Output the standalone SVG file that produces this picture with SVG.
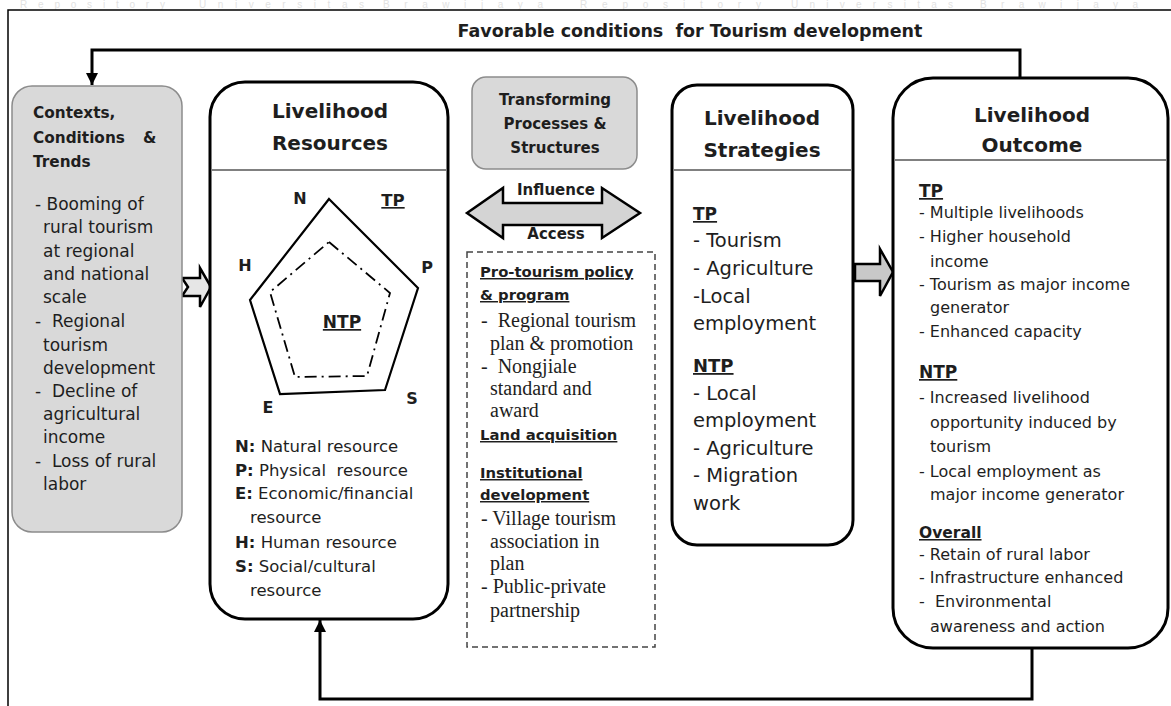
<svg xmlns="http://www.w3.org/2000/svg" width="1171" height="706" viewBox="0 0 1171 706">
  <style>
    .box { fill: #ffffff; stroke: #000000; stroke-width: 3; }
    .gbox { fill: #d9d9d9; stroke: #8c8c8c; stroke-width: 1.5; }
    .rule { stroke: #808080; stroke-width: 2; }
    .t { font-family: "DejaVu Sans", sans-serif; fill: #1e1e1e; }
    .s { font-family: "Liberation Serif", serif; fill: #1e1e1e; font-size: 20px; }
    .b { font-weight: bold; }
    .u { text-decoration: underline; }
    .c { text-anchor: middle; }
    .wire { fill: none; stroke: #000000; stroke-width: 3; }
    .block { stroke: #000000; stroke-width: 2.5; stroke-linejoin: miter; }
    .wm { font-family: "Liberation Sans", sans-serif; font-size: 10px; fill: #e2e2e2; }
  </style>
  <defs>
    <marker id="head" markerUnits="userSpaceOnUse" markerWidth="14" markerHeight="14" refX="12" refY="7" orient="auto">
      <path d="M0,1 L12,7 L0,13 Z" fill="#000000"/>
    </marker>
  </defs>

  <rect width="1171" height="706" fill="#ffffff"/>

  <!-- faint repository watermark along the top edge -->
  <g>
    <text class="wm" x="20" y="8" textLength="145" lengthAdjust="spacing">Repository</text>
    <text class="wm" x="199" y="8" textLength="165" lengthAdjust="spacing">Universitas</text>
    <text class="wm" x="383" y="8" textLength="160" lengthAdjust="spacing">Brawijaya</text>
    <text class="wm" x="580" y="8" textLength="181" lengthAdjust="spacing">Repository</text>
    <text class="wm" x="791" y="8" textLength="162" lengthAdjust="spacing">Universitas</text>
    <text class="wm" x="980" y="8" textLength="158" lengthAdjust="spacing">Brawijaya</text>
  </g>

  <!-- outer frame -->
  <path d="M8,706 V10 H1171" fill="none" stroke="#000000" stroke-width="1.5"/>

  <!-- title of the feedback loop -->
  <text class="t b c" x="690" y="37" font-size="17.5" xml:space="preserve">Favorable conditions  for Tourism development</text>

  <!-- connectors -->
  <g id="connectors">
    <path class="wire" d="M1020,78 V50 H92 V85" marker-end="url(#head)"/>
    <path class="wire" d="M1032,648 V699 H320 V620" marker-end="url(#head)"/>
    <!-- contexts to resources -->
    <polygon class="block" fill="#e6e6e6" points="182,278 200,278 200,268 211,287 200,307 200,296 182,296 188,287"/>
    <!-- strategies to outcome -->
    <polygon class="block" fill="#c8c8c8" points="855,264 880,264 880,249 893,272 880,296 880,281 855,281"/>
    <!-- influence / access -->
    <polygon class="block" fill="#d4d4d4" points="467,213 503,188 503,203 602,203 602,188 640,213 602,238 602,225 503,225 503,238"/>
    <text class="t b c" x="556" y="195" font-size="15">Influence</text>
    <text class="t b c" x="556" y="239" font-size="15">Access</text>
  </g>

  <!-- contexts, conditions and trends -->
  <g id="contexts">
    <rect class="gbox" x="12" y="86" width="170" height="446" rx="20"/>
    <text class="t b" font-size="15.3"><tspan x="33" y="118">Contexts,</tspan><tspan x="33" y="143">Conditions</tspan><tspan x="143" y="143">&amp;</tspan><tspan x="33" y="167">Trends</tspan></text>
    <text class="t" font-size="17" xml:space="preserve"><tspan x="35" y="210">- Booming of</tspan><tspan x="43" y="233">rural tourism</tspan><tspan x="43" y="257">at regional</tspan><tspan x="43" y="280">and national</tspan><tspan x="43" y="303">scale</tspan><tspan x="35" y="327">-  Regional</tspan><tspan x="43" y="351">tourism</tspan><tspan x="43" y="374">development</tspan><tspan x="35" y="397">-  Decline of</tspan><tspan x="43" y="420">agricultural</tspan><tspan x="43" y="443">income</tspan><tspan x="35" y="467">-  Loss of rural</tspan><tspan x="43" y="490">labor</tspan></text>
  </g>

  <!-- livelihood resources -->
  <g id="resources">
    <rect class="box" x="210" y="82" width="238" height="537" rx="35"/>
    <line class="rule" x1="211" y1="170" x2="447" y2="170"/>
    <text class="t b c" font-size="20"><tspan x="330" y="118">Livelihood</tspan><tspan x="330" y="150">Resources</tspan></text>
    <polygon points="329,199 418,288 385,390 280,394 250,300" fill="none" stroke="#000000" stroke-width="2.2"/>
    <polygon points="329,242 390,293 367,376 295,377 270,292" fill="none" stroke="#000000" stroke-width="1.8" stroke-dasharray="12,5,2,5"/>
    <text class="t b c" font-size="16"><tspan x="300" y="204">N</tspan><tspan x="245" y="271">H</tspan><tspan x="427" y="273">P</tspan><tspan x="268" y="413">E</tspan><tspan x="412" y="404">S</tspan></text>
    <text class="t b c u" x="393" y="206" font-size="16.5">TP</text>
    <text class="t b c u" x="342" y="328" font-size="17">NTP</text>
    <text class="t" font-size="16.5" xml:space="preserve"><tspan x="235" y="452"><tspan class="b">N:</tspan> Natural resource</tspan><tspan x="235" y="476"><tspan class="b">P:</tspan> Physical  resource</tspan><tspan x="235" y="499"><tspan class="b">E:</tspan> Economic/financial</tspan><tspan x="250" y="523">resource</tspan><tspan x="235" y="548"><tspan class="b">H:</tspan> Human resource</tspan><tspan x="235" y="572"><tspan class="b">S:</tspan> Social/cultural</tspan><tspan x="250" y="596">resource</tspan></text>
  </g>

  <!-- transforming processes and structures -->
  <g id="transforming">
    <rect class="gbox" x="472" y="77" width="165" height="92" rx="14"/>
    <text class="t b c" font-size="15"><tspan x="555" y="105">Transforming</tspan><tspan x="555" y="129">Processes &amp;</tspan><tspan x="555" y="153">Structures</tspan></text>
  </g>

  <!-- policies and institutions -->
  <g id="policies">
    <rect x="467" y="252" width="188" height="395" fill="none" stroke="#444444" stroke-width="1.5" stroke-dasharray="6,4"/>
    <text class="t b u" x="480" y="277" font-size="14.8">Pro-tourism policy</text>
    <text class="t b u" x="480" y="300" font-size="14.8">&amp; program</text>
    <text class="s" xml:space="preserve"><tspan x="481" y="327">-  Regional tourism</tspan><tspan x="490" y="350">plan &amp; promotion</tspan><tspan x="481" y="373">-  Nongjiale</tspan><tspan x="490" y="395">standard and</tspan><tspan x="490" y="417">award</tspan></text>
    <text class="t b u" x="480" y="440" font-size="14.8">Land acquisition</text>
    <text class="t b u" x="480" y="478" font-size="14.8">Institutional</text>
    <text class="t b u" x="480" y="500" font-size="14.8">development</text>
    <text class="s"><tspan x="481" y="525">- Village tourism</tspan><tspan x="490" y="548">association in</tspan><tspan x="490" y="570">plan</tspan><tspan x="481" y="593">- Public-private</tspan><tspan x="490" y="617">partnership</tspan></text>
  </g>

  <!-- livelihood strategies -->
  <g id="strategies">
    <rect class="box" x="672" y="85" width="181" height="460" rx="25"/>
    <line class="rule" x1="673" y1="170" x2="852" y2="170"/>
    <text class="t b c" font-size="20"><tspan x="762" y="125">Livelihood</tspan><tspan x="762" y="157">Strategies</tspan></text>
    <text class="t b u" x="693" y="220" font-size="17">TP</text>
    <text class="t" font-size="19.5"><tspan x="693" y="247">- Tourism</tspan><tspan x="693" y="275">- Agriculture</tspan><tspan x="693" y="303">-Local</tspan><tspan x="693" y="330">employment</tspan></text>
    <text class="t b u" x="693" y="372" font-size="18">NTP</text>
    <text class="t" font-size="19.5"><tspan x="693" y="400">- Local</tspan><tspan x="693" y="427">employment</tspan><tspan x="693" y="455">- Agriculture</tspan><tspan x="693" y="482">- Migration</tspan><tspan x="693" y="510">work</tspan></text>
  </g>

  <!-- livelihood outcome -->
  <g id="outcome">
    <rect class="box" x="893" y="78" width="275" height="570" rx="40"/>
    <line class="rule" x1="894" y1="160" x2="1167" y2="160"/>
    <text class="t b c" font-size="20"><tspan x="1032" y="122">Livelihood</tspan><tspan x="1032" y="152">Outcome</tspan></text>
    <text class="t b u" x="919" y="197" font-size="17">TP</text>
    <text class="t" font-size="16"><tspan x="919" y="218">- Multiple livelihoods</tspan><tspan x="919" y="242">- Higher household</tspan><tspan x="930" y="267">income</tspan><tspan x="919" y="290">- Tourism as major income</tspan><tspan x="930" y="313">generator</tspan><tspan x="919" y="337">- Enhanced capacity</tspan></text>
    <text class="t b u" x="919" y="378" font-size="17">NTP</text>
    <text class="t" font-size="16"><tspan x="919" y="403">- Increased livelihood</tspan><tspan x="930" y="428">opportunity induced by</tspan><tspan x="930" y="452">tourism</tspan><tspan x="919" y="477">- Local employment as</tspan><tspan x="930" y="500">major income generator</tspan></text>
    <text class="t b u" x="919" y="538" font-size="15.5">Overall</text>
    <text class="t" font-size="16" xml:space="preserve"><tspan x="919" y="560">- Retain of rural labor</tspan><tspan x="919" y="583">- Infrastructure enhanced</tspan><tspan x="919" y="607">-  Environmental</tspan><tspan x="930" y="632">awareness and action</tspan></text>
  </g>
</svg>
